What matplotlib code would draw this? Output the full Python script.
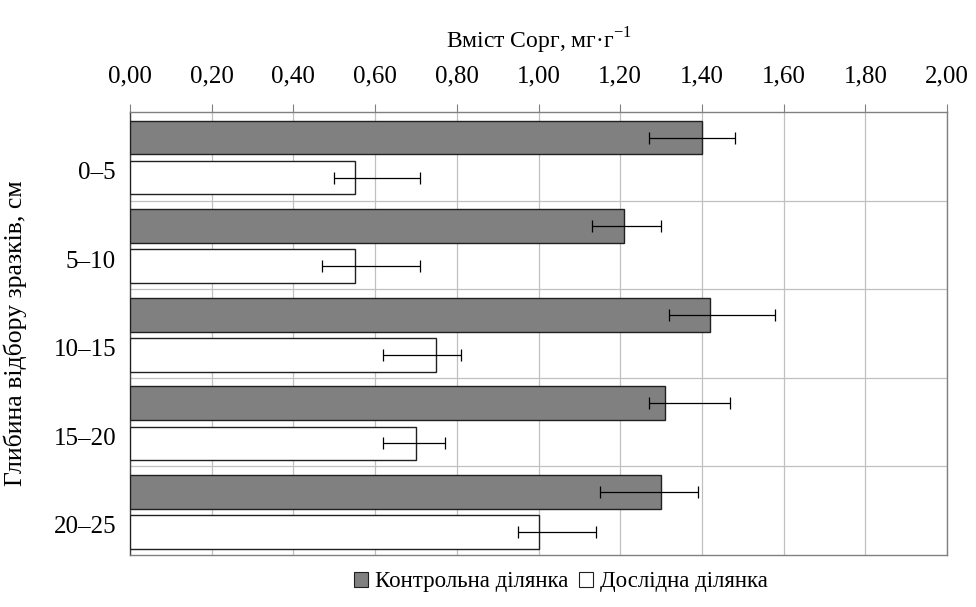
import matplotlib
matplotlib.use("Agg")
import matplotlib.pyplot as plt
import numpy as np
from matplotlib.patches import Patch

plt.rcParams['font.family'] = ['Liberation Serif', 'DejaVu Serif']

categories = ["0–5", "5–10", "10–15", "15–20", "20–25"]
control = [1.40, 1.21, 1.42, 1.31, 1.30]
control_err_low = [0.13, 0.08, 0.10, 0.04, 0.15]
control_err_high = [0.08, 0.09, 0.16, 0.16, 0.09]
experiment = [0.55, 0.55, 0.75, 0.70, 1.00]
experiment_err_low = [0.05, 0.08, 0.13, 0.08, 0.05]
experiment_err_high = [0.16, 0.16, 0.06, 0.07, 0.14]
xticks = [0.0, 0.2, 0.4, 0.6, 0.8, 1.0, 1.2, 1.4, 1.6, 1.8, 2.0]
series_names = ["Контрольна ділянка", "Дослідна ділянка"]

fig = plt.figure(figsize=(9.76, 6.07), dpi=100)
ax = fig.add_axes([130/976, 1 - 555/607, (947-130)/976, (555-112)/607])

n = len(categories)
idx = np.arange(n)
h = 0.38
yc = idx + 0.288
ye = idx + 0.741

ax.barh(yc, control, height=h, color="#808080", edgecolor="#202020", linewidth=1.0, zorder=3)
ax.barh(ye, experiment, height=h, color="white", edgecolor="#202020", linewidth=1.0, zorder=3)
ax.errorbar(control, yc, xerr=[control_err_low, control_err_high], fmt="none",
            ecolor="black", elinewidth=0.9, capsize=4.5, capthick=0.9, zorder=4)
ax.errorbar(experiment, ye, xerr=[experiment_err_low, experiment_err_high], fmt="none",
            ecolor="black", elinewidth=0.9, capsize=4.5, capthick=0.9, zorder=4)

ax.set_xlim(0, 2.0)
ax.set_ylim(n, 0)
ax.xaxis.tick_top()
ax.xaxis.set_label_position("top")
ax.set_xticks(xticks)
ax.set_xticklabels([f"{v:.2f}".replace(".", ",") for v in xticks], fontsize=18)
ax.tick_params(axis="x", direction="out", length=6, width=0.8, color="#808080", pad=12)
ax.set_yticks(idx + 0.66)
ax.set_yticklabels(categories, fontsize=18)
ax.tick_params(axis="y", length=0, pad=10)
ax.set_xlabel("Вміст Сорг, мг·г$^{\\mathregular{-1}}$", fontsize=17, labelpad=12)
ax.set_ylabel("Глибина відбору зразків, см", fontsize=18.5)
ax.yaxis.set_label_coords(-103/817, 0.5)

ax.grid(axis="x", color="#c0c0c0", linewidth=0.9, zorder=0)
for b in range(1, n):
    ax.axhline(b, color="#c0c0c0", linewidth=0.9, zorder=0)
for s in ax.spines.values():
    s.set_color("#808080")
    s.set_linewidth(1.0)
ax.spines["left"].set_color("#404040")

handles = [Patch(facecolor="#808080", edgecolor="#202020", linewidth=0.8),
           Patch(facecolor="white", edgecolor="#202020", linewidth=0.8)]
fig.legend(handles, series_names, loc="center", bbox_to_anchor=(561/976, 1 - 582/607),
           ncol=2, frameon=False, fontsize=16.5, handlelength=0.6, handleheight=0.6,
           handletextpad=0.3, columnspacing=0.5, borderaxespad=0)

fig.savefig("out.png", dpi=100)
